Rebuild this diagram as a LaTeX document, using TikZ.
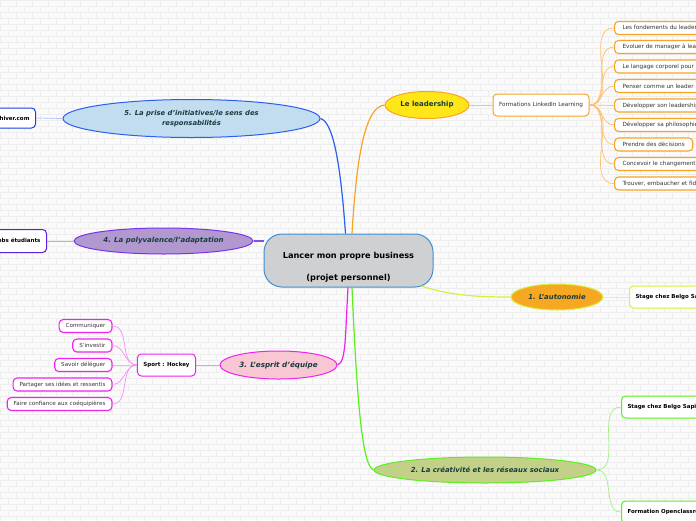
\documentclass[tikz,border=0pt]{standalone}
\usepackage{fontspec}
\setmainfont{DejaVu Sans}
\usetikzlibrary{shapes.geometric}
\definecolor{bgc}{HTML}{FAFAFA}
\definecolor{brick}{HTML}{EEEEEE}
\definecolor{dgreen}{HTML}{163C3C}
\definecolor{txt}{HTML}{333333}
\definecolor{cfill}{HTML}{CFD0D2}
\definecolor{cborder}{HTML}{3B8FD4}
\definecolor{orline}{HTML}{F7A325}
\definecolor{orlight}{HTML}{FFC070}
\definecolor{leadfill}{HTML}{FFE619}
\definecolor{autofill}{HTML}{F7A823}
\definecolor{ygline}{HTML}{D8F040}
\definecolor{yglight}{HTML}{E6F880}
\definecolor{crefill}{HTML}{C3D188}
\definecolor{grline}{HTML}{5AEF1E}
\definecolor{grlight}{HTML}{A0F27E}
\definecolor{espfill}{HTML}{F9C6D4}
\definecolor{mgline}{HTML}{EE22EE}
\definecolor{mglight}{HTML}{F590F5}
\definecolor{polfill}{HTML}{B199CF}
\definecolor{vioborder}{HTML}{7A30F0}
\definecolor{violine}{HTML}{8050E8}
\definecolor{violight}{HTML}{C0A0F5}
\definecolor{viobox}{HTML}{5A20E0}
\definecolor{prisefill}{HTML}{C2DCF0}
\definecolor{blborder}{HTML}{2A60F0}
\definecolor{blline}{HTML}{2A5FF2}
\definecolor{bllight}{HTML}{A8C4F8}
\definecolor{blbox}{HTML}{1A40E0}
\tikzset{
  topic/.style={ellipse, draw, line width=1pt, inner sep=0pt, align=center,
    text=dgreen, font=\fontsize{6.9}{10}\selectfont\bfseries\itshape},
  subbox/.style={rectangle, rounded corners=4pt, draw, fill=white, line width=1pt,
    minimum height=22pt, inner xsep=6pt, font=\fontsize{5.5}{6.5}\selectfont\bfseries, text=black},
  leafbox/.style={rectangle, rounded corners=4pt, draw, fill=white, line width=1.1pt,
    minimum height=13pt, inner xsep=8pt, inner ysep=0pt, font=\fontsize{5.7}{7}\selectfont, text=txt},
  mainline/.style={line width=1.2pt},
  thinline/.style={line width=0.7pt},
}
\begin{document}
\begin{tikzpicture}[x=1pt,y=-1pt]
\useasboundingbox (0,0) rectangle (696,520);
\fill[bgc] (0,0) rectangle (696,520);
% brick background
\foreach \r in {0,...,87}{
  \draw[brick,line width=0.4pt] (0,\r*6) -- (696,\r*6);
  \pgfmathsetmacro{\off}{mod(\r,2)*8}
  \foreach \c in {0,...,44}{
    \draw[brick,line width=0.4pt] (\c*16+\off,\r*6) -- (\c*16+\off,\r*6+6);
  }
}

% central node
\node[rectangle, rounded corners=18pt, draw=cborder, fill=cfill, line width=1pt,
  minimum width=169pt, minimum height=53pt, align=center,
  font=\fontsize{8.2}{22}\selectfont\bfseries, text=black]
  (c) at (348.5,260.5) {\rule{0pt}{19pt}Lancer mon propre business\\(projet personnel)};

% main topics
\node[topic, fill=leadfill, draw=orline, minimum width=84pt, minimum height=27pt,
  font=\fontsize{7}{8}\selectfont\bfseries, text=dgreen] (lead) at (427,105) {Le leadership};
\node[topic, fill=autofill, draw=ygline, minimum width=92pt, minimum height=26pt] (aut) at (557,297) {1. L'autonomie};
\node[topic, fill=crefill, draw=grline, minimum width=222pt, minimum height=26pt] (cre) at (485,470) {2. La créativité et les réseaux sociaux};
\node[topic, fill=espfill, draw=mgline, minimum width=117pt, minimum height=28pt,
  font=\fontsize{7.2}{8}\selectfont\bfseries\itshape] (esp) at (278.5,365) {3. L'esprit d'équipe};
\node[topic, fill=polfill, draw=vioborder, minimum width=179pt, minimum height=26pt,
  font=\fontsize{7}{8}\selectfont\bfseries\itshape] (pol) at (163.5,241) {4. La polyvalence/l'adaptation};
\node[topic, fill=prisefill, draw=blborder, minimum width=257pt, minimum height=38pt,
  font=\fontsize{6.8}{10}\selectfont\bfseries\itshape] (pri) at (191.5,118.5) {5. La prise d'initiatives/le sens des\\responsabilités};

% main connectors
\draw[mainline, blline] ([xshift=-3pt]c.north) .. controls (341,170) and (334,122) .. (pri.east);
\draw[mainline, orline] ([xshift=3.5pt]c.north) .. controls (357,150) and (366,107) .. (lead.west);
\draw[mainline, violine] (c.west |- pol.east) -- (pol.east);
\draw[mainline, mgline] ([xshift=-0.5pt]c.south) .. controls (345,340) and (346,362) .. (esp.east);
\draw[mainline, grline] ([xshift=3.5pt]c.south) .. controls (357,400) and (362,466) .. (cre.west);
\coordinate (cse) at (421,286);
\draw[mainline, ygline] (cse) .. controls (452,296) and (480,297) .. (aut.west);

% leadership branch
\node[subbox, draw=orline, minimum width=92pt, font=\fontsize{5.7}{6.5}\selectfont, text=txt] (form) at (541,105) {Formations LinkedIn Learning};
\draw[thinline, orlight] (lead.east) -- (form.west);
\foreach \t/\y [count=\i] in {
  Les fondements du leadership/28,
  Evoluer de manager à leader/47,
  Le langage corporel pour les leaders/66.5,
  Penser comme un leader/86,
  Développer son leadership/105.5,
  Développer sa philosophie du leadership/125,
  Prendre des décisions/144.5,
  Concevoir le changement/164,
  {Trouver, embaucher et fidéliser les talents}/183.5}{
  \node[leafbox, draw=orline, anchor=west] (l\i) at (614,\y) {\t};
  \draw[thinline, orlight] (form.east) to[out=0,in=180] (l\i.west);
}

% autonomie branch
\node[subbox, draw=ygline, anchor=west] (aut1) at (629,297) {Stage chez Belgo Sapiens};
\draw[thinline, yglight] (aut.east) -- (aut1.west);

% creativite branch
\node[subbox, draw=grline, anchor=west] (cre1) at (621,407) {Stage chez Belgo Sapiens};
\node[subbox, draw=grline, anchor=west] (cre2) at (621,512) {Formation Openclassrooms};
\draw[thinline, grlight] (cre.east) to[out=0,in=180] (cre1.west);
\draw[thinline, grlight] (cre.east) to[out=0,in=180] (cre2.west);

% esprit d'equipe branch
\node[subbox, draw=mgline, minimum width=55pt] (hock) at (166.5,365) {Sport : Hockey};
\draw[thinline, mglight] (esp.west) -- (hock.east);
\foreach \t/\y [count=\i] in {
  Communiquer/326,
  S'investir/345.5,
  Savoir déléguer/365,
  Partager ses idées et ressentis/384.5,
  Faire confiance aux coéquipières/404}{
  \node[leafbox, draw=mgline, anchor=east, inner xsep=6.5pt, font=\fontsize{5.6}{7}\selectfont] (h\i) at (112.5,\y) {\t};
  \draw[thinline, mglight] (hock.west) to[out=180,in=0] (h\i.east);
}

% polyvalence branch
\node[subbox, draw=viobox, anchor=east, minimum height=23pt] (pol1) at (47,241) {Jobs étudiants};
\draw[thinline, violight] (pol.west) -- (pol1.east);

% prise d'initiatives branch
\node[subbox, draw=blbox, anchor=east, minimum height=20pt, text width=44pt, align=right] (pri1) at (36,118) {hiver.com};
\draw[thinline, bllight] (pri.west) -- (pri1.east);
\end{tikzpicture}
\end{document}
